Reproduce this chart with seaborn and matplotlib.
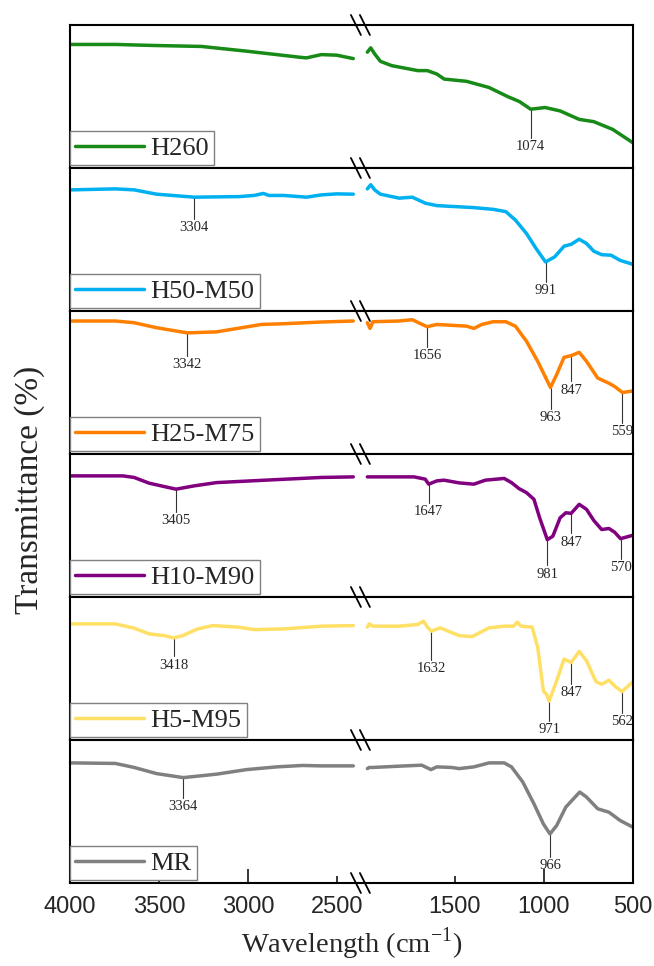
import numpy as np
import pandas as pd
import matplotlib
matplotlib.use("Agg")
import matplotlib.pyplot as plt
import seaborn as sns
from matplotlib.lines import Line2D

# FTIR spectra, wavenumber (cm-1) vs transmittance (arbitrary %, per panel)
h260_wn = [3998, 3745, 3535, 3262, 3009, 2714, 2673, 2589, 2503, 2410,
           1991, 1972, 1950, 1918, 1855, 1708, 1654, 1601, 1560, 1434, 1308,
           1201, 1138, 1074, 993, 909, 802, 720, 614, 500]
h260_t = [86.4, 86.4, 85.7, 85.0, 81.7, 77.5, 77.0, 79.3, 78.9, 76.5,
          81.0, 84.0, 79.8, 74.6, 71.6, 68.1, 68.1, 65.7, 62.2, 60.6, 56.3,
          49.8, 46.5, 41.1, 42.3, 39.9, 34.0, 32.4, 27.0, 17.6]

h5050_wn = [3998, 3745, 3640, 3514, 3304, 3051, 2967, 2915, 2883, 2799, 2673,
            2589, 2503, 2410,
            1991, 1972, 1950, 1918, 1812, 1739, 1666, 1601, 1393, 1286, 1214,
            1160, 1098, 1044, 991, 940, 887, 846, 802, 761, 720, 676, 623, 572, 500]
h5050_t = [84.7, 85.4, 84.7, 81.7, 79.6, 80.0, 80.8, 82.2, 80.8, 80.8, 79.6,
           81.2, 81.9, 81.7,
           85.4, 88.3, 84.7, 81.7, 78.9, 79.6, 75.4, 73.7, 72.3, 71.1, 69.5,
           63.6, 54.2, 43.7, 34.3, 37.8, 45.3, 46.7, 50.2, 47.2, 41.8, 39.4, 39.0, 35.4, 32.6]

h2575_wn = [3998, 3745, 3640, 3514, 3342, 3178, 2925, 2799, 2589, 2410,
            1991, 1976, 1960, 1812, 1739, 1656, 1601, 1434, 1393, 1349, 1286,
            1214, 1160, 1098, 1035, 963, 929, 887, 847, 802, 761, 698, 635, 603, 559, 500]
h2575_t = [93.0, 93.0, 91.8, 88.3, 84.7, 85.4, 90.6, 91.1, 92.3, 93.0,
           91.8, 87.8, 92.5, 93.0, 93.9, 89.0, 90.6, 89.4, 87.8, 90.6, 92.5,
           92.5, 89.4, 78.9, 64.8, 46.5, 55.4, 67.6, 68.8, 71.1, 64.8, 53.1, 49.5, 47.2, 43.0, 44.1]

h1090_wn = [3998, 3703, 3640, 3556, 3405, 3304, 3178, 2904, 2589, 2410,
            1991, 1729, 1666, 1647, 1601, 1560, 1476, 1393, 1329, 1223, 1182,
            1140, 1098, 1056, 1024, 981, 950, 909, 877, 847, 802, 761, 720, 676,
            635, 603, 570, 500]
h1090_t = [84.7, 84.7, 83.6, 79.6, 75.4, 77.7, 80.0, 81.7, 83.6, 84.0,
           84.0, 84.0, 82.4, 78.9, 81.2, 81.7, 79.8, 78.9, 81.7, 82.9, 80.0,
           75.8, 73.0, 68.3, 55.4, 40.1, 42.5, 55.4, 58.9, 58.5, 64.8, 61.3, 53.5, 47.2,
           47.9, 45.3, 40.8, 43.2]

h595_wn = [3998, 3745, 3640, 3556, 3472, 3418, 3367, 3283, 3199, 3051, 2967,
           2799, 2589, 2410,
           1991, 1981, 1960, 1812, 1708, 1676, 1654, 1632, 1582, 1476, 1403,
           1308, 1223, 1171, 1150, 1129, 1066, 1035, 1003, 985, 971, 929, 887,
           847, 802, 761, 708, 676, 635, 603, 562, 500]
h595_t = [81.2, 81.2, 78.2, 74.2, 73.0, 71.4, 73.0, 77.7, 80.0, 78.9, 77.2,
          77.7, 79.6, 80.0,
          78.9, 81.2, 79.6, 79.6, 80.8, 83.1, 78.9, 76.1, 78.4, 73.0, 72.3,
          78.4, 79.6, 79.6, 82.4, 79.6, 78.9, 64.8, 34.3, 31.9, 27.2, 41.3, 56.6,
          54.2, 62.0, 55.4, 40.8, 39.0, 41.8, 37.8, 33.8, 40.8]

mr_wn = [3998, 3745, 3640, 3514, 3364, 3178, 3009, 2841, 2694, 2589, 2410,
         1991, 1981, 1960, 1812, 1686, 1634, 1601, 1518, 1476, 1393, 1308,
         1223, 1182, 1119, 1056, 1003, 966, 929, 877, 834, 799, 761, 698, 635, 572, 500]
mr_t = [84.0, 83.6, 80.8, 76.5, 73.7, 76.1, 79.3, 81.2, 82.2, 81.9, 81.9,
        80.0, 80.8, 80.8, 81.7, 82.4, 79.3, 81.2, 80.8, 80.0, 81.2, 84.0,
        84.0, 81.2, 70.7, 55.4, 41.3, 34.3, 40.1, 53.1, 58.9, 63.6, 60.1, 51.9, 49.5, 43.7, 39.0]

names = ["H260", "H50-M50", "H25-M75", "H10-M90", "H5-M95", "MR"]
spectra = [(h260_wn, h260_t), (h5050_wn, h5050_t), (h2575_wn, h2575_t),
           (h1090_wn, h1090_t), (h595_wn, h595_t), (mr_wn, mr_t)]
peaks = [[1074], [3304, 991], [3342, 1656, 963, 847, 559],
         [3405, 1647, 981, 847, 570], [3418, 1632, 971, 847, 562], [3364, 966]]
drops = [[20], [15, 14], [16, 14, 15, 18, 21], [16, 13, 18, 14, 14],
         [13, 20, 14, 15, 15], [14, 16]]
colors = ["#178A17", "#00B0F0", "#FF8000", "#800080", "#FFE066", "#808080"]

sns.set_style("white")
plt.rcParams["font.family"] = ["Liberation Serif", "DejaVu Serif"]
plt.rcParams["mathtext.fontset"] = "custom"
plt.rcParams["mathtext.rm"] = "Liberation Serif"

W, H = 654, 966
L, R, T, B = 70, 633, 25, 883
left_lim = (4000, 2370)
right_lim = (2030, 500)

fig = plt.figure(figsize=(W / 100, H / 100), dpi=100)
gs = fig.add_gridspec(6, 2, left=L / W, right=R / W, top=1 - T / H, bottom=1 - B / H,
                      hspace=0, wspace=0,
                      width_ratios=[left_lim[0] - left_lim[1], right_lim[0] - right_lim[1]])

for i, (name, (wn, t), col) in enumerate(zip(names, spectra, colors)):
    axl = fig.add_subplot(gs[i, 0])
    axr = fig.add_subplot(gs[i, 1])
    df = pd.DataFrame({"wn": wn, "t": t})
    sns.lineplot(data=df[df.wn > 2200], x="wn", y="t", ax=axl, color=col,
                 lw=2.5, label=name, sort=False)
    sns.lineplot(data=df[df.wn < 2200], x="wn", y="t", ax=axr, color=col,
                 lw=2.5, legend=False, sort=False)
    axl.set_xlim(*left_lim)
    axr.set_xlim(*right_lim)
    for ax in (axl, axr):
        ax.set_ylim(0, 100)
        ax.set_xlabel("")
        ax.set_ylabel("")
        ax.set_yticks([])
        for sp in ax.spines.values():
            sp.set_linewidth(1.5)
            sp.set_color("black")
    axl.spines["right"].set_visible(False)
    axr.spines["left"].set_visible(False)

    # peak markers
    xs = np.array(wn[::-1])
    ys = np.array(t[::-1])
    for pk, dr in zip(peaks[i], drops[i]):
        ax = axl if pk > 2200 else axr
        yp = np.interp(pk, xs, ys)
        ax.plot([pk, pk], [yp, yp - dr], color="#333333", lw=0.8, zorder=1)
        ax.text(pk, yp - dr - 1.5, str(pk), ha="center", va="top", fontsize=10.5)

    leg = axl.legend(loc="lower left", bbox_to_anchor=(0.0, 0.018), borderaxespad=0,
                     fontsize=19, frameon=True, fancybox=False, framealpha=1,
                     edgecolor="#808080", handlelength=2.6, handletextpad=0.25,
                     borderpad=0.2)
    leg.get_frame().set_linewidth(1)
    leg.set_zorder(5)

    if i < 5:
        axl.set_xticks([])
        axr.set_xticks([])
    else:
        axl.set_xticks([4000, 3000])
        axl.set_xticklabels(["4000", "3000"])
        axl.set_xticks([3500, 2500], minor=True)
        axl.set_xticklabels(["3500", "2500"], minor=True)
        axr.set_xticks([1000])
        axr.set_xticklabels(["1000"])
        axr.set_xticks([1500, 500], minor=True)
        axr.set_xticklabels(["1500", "500"], minor=True)
        for ax in (axl, axr):
            ax.tick_params(axis="x", which="major", direction="in", length=10,
                           width=1.3, labelsize=17, pad=9, bottom=True)
            ax.tick_params(axis="x", which="minor", direction="in", length=5,
                           width=1.3, labelsize=17, pad=9, bottom=True)
            for lab in ax.get_xticklabels(which="both"):
                lab.set_fontfamily("Liberation Sans")

# axis break marks
split = L + (R - L) * (left_lim[0] - left_lim[1]) / (
    (left_lim[0] - left_lim[1]) + (right_lim[0] - right_lim[1]))
for k in range(7):
    yy = T + k * (B - T) / 6
    for dx in (-4.5, 4.5):
        xc = split + dx
        fig.add_artist(Line2D([(xc - 5) / W, (xc + 5) / W],
                              [1 - (yy - 10) / H, 1 - (yy + 10) / H],
                              transform=fig.transFigure, color="black", lw=1.3))

fig.text((L + R) / 2 / W, 1 - 944 / H, "Wavelength (cm$^{-1}$)", ha="center",
         va="center", fontsize=20.5)
fig.text(30 / W, 1 - 490 / H, "Transmittance (%)", ha="center", va="center",
         rotation=90, fontsize=24)

fig.savefig("out.png", dpi=100)
